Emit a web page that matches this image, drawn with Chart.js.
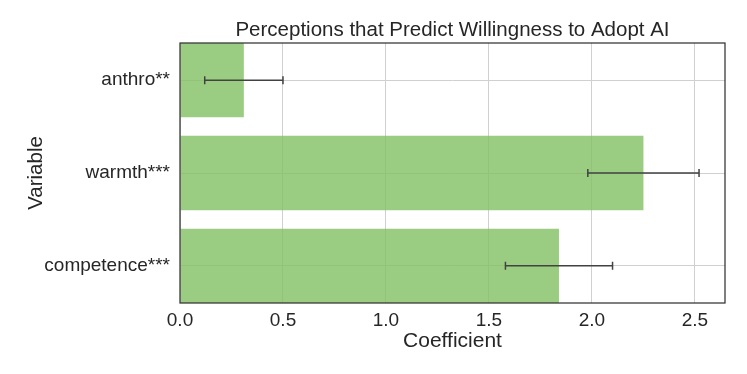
<!DOCTYPE html>
<html>
<head>
<meta charset="utf-8">
<script src="https://cdn.jsdelivr.net/npm/chart.js@4"></script>
<style>
  html, body { margin: 0; padding: 0; background: #fff; }
  #wrap { width: 747px; height: 374px; }
</style>
</head>
<body>
<div id="wrap"><canvas id="chart" width="747" height="374"></canvas></div>
<script>
var categories = ['anthro**', 'warmth***', 'competence***'];
var coefficients = [0.31, 2.25, 1.84];
var ciLow = [0.12, 1.98, 1.58];
var ciHigh = [0.50, 2.52, 2.10];
var xTicks = [0, 0.5, 1.0, 1.5, 2.0, 2.5];

var textColor = '#262626';
var font = 'Liberation Sans, Arial, sans-serif';

// error bars and plot frame
var errorBars = {
    id: 'errorBars',
    afterDatasetsDraw: function(chart) {
        var ctx = chart.ctx;
        var xs = chart.scales.x, ys = chart.scales.y;
        ctx.save();
        ctx.strokeStyle = '#424242';
        ctx.lineWidth = 1.5;
        for (var i = 0; i < categories.length; i++) {
            var y = ys.getPixelForValue(i);
            var x0 = xs.getPixelForValue(ciLow[i]);
            var x1 = xs.getPixelForValue(ciHigh[i]);
            ctx.beginPath();
            ctx.moveTo(x0, y); ctx.lineTo(x1, y);
            ctx.moveTo(x0, y - 4); ctx.lineTo(x0, y + 4);
            ctx.moveTo(x1, y - 4); ctx.lineTo(x1, y + 4);
            ctx.stroke();
        }
        var a = chart.chartArea;
        ctx.strokeStyle = '#333333';
        ctx.lineWidth = 1.25;
        ctx.strokeRect(a.left, a.top, a.right - a.left, a.bottom - a.top);
        ctx.restore();
    }
};

var config = {
    type: 'bar',
    data: {
        datasets: [{
            data: coefficients.map(function(v, i) { return { x: v, y: i }; }),
            backgroundColor: 'rgba(129, 192, 99, 0.8)',
            borderWidth: 0,
            barPercentage: 0.8,
            categoryPercentage: 1.0
        }]
    },
    options: {
        indexAxis: 'y',
        responsive: false,
        animation: false,
        layout: { padding: { top: 14, left: 20, right: 22, bottom: 0 } },
        plugins: {
            legend: { display: false },
            tooltip: { enabled: false },
            title: {
                display: true,
                fullSize: false,
                text: 'Perceptions that Predict Willingness to Adopt AI',
                color: textColor,
                font: { family: font, size: 20.5, weight: 'normal' },
                padding: { top: 4, bottom: 0.4 }
            }
        },
        scales: {
            x: {
                type: 'linear',
                min: 0,
                max: 2.646,
                afterBuildTicks: function(scale) {
                    scale.ticks = xTicks.map(function(v) { return { value: v }; });
                },
                afterFit: function(scale) { scale.height = 71; },
                ticks: {
                    color: textColor,
                    padding: 6,
                    font: { family: font, size: 19 },
                    callback: function(v) { return Number(v).toFixed(1); }
                },
                grid: { color: '#d0d0d0', lineWidth: 1, drawTicks: false },
                border: { display: false },
                title: {
                    display: true,
                    text: 'Coefficient',
                    color: textColor,
                    font: { family: font, size: 21 },
                    padding: { top: 2, bottom: 20 }
                }
            },
            y: {
                type: 'linear',
                min: -0.4,
                max: 2.4,
                reverse: true,
                offset: false,
                afterBuildTicks: function(scale) {
                    scale.ticks = categories.map(function(c, i) { return { value: i }; });
                },
                afterFit: function(scale) { scale.width = 180 - 20; },
                ticks: {
                    color: textColor,
                    padding: 10,
                    font: { family: font, size: 19 },
                    callback: function(v) { return categories[v]; }
                },
                grid: { color: '#d0d0d0', lineWidth: 1, drawTicks: false, offset: false },
                border: { display: false },
                title: {
                    display: true,
                    text: 'Variable',
                    color: textColor,
                    font: { family: font, size: 20.5 },
                    padding: { top: 4, bottom: 4 }
                }
            }
        }
    },
    plugins: [errorBars]
};

window.onload = function() {
    var ctx = document.getElementById('chart').getContext('2d');
    window.myBar = new Chart(ctx, config);
};
</script>
</body>
</html>
